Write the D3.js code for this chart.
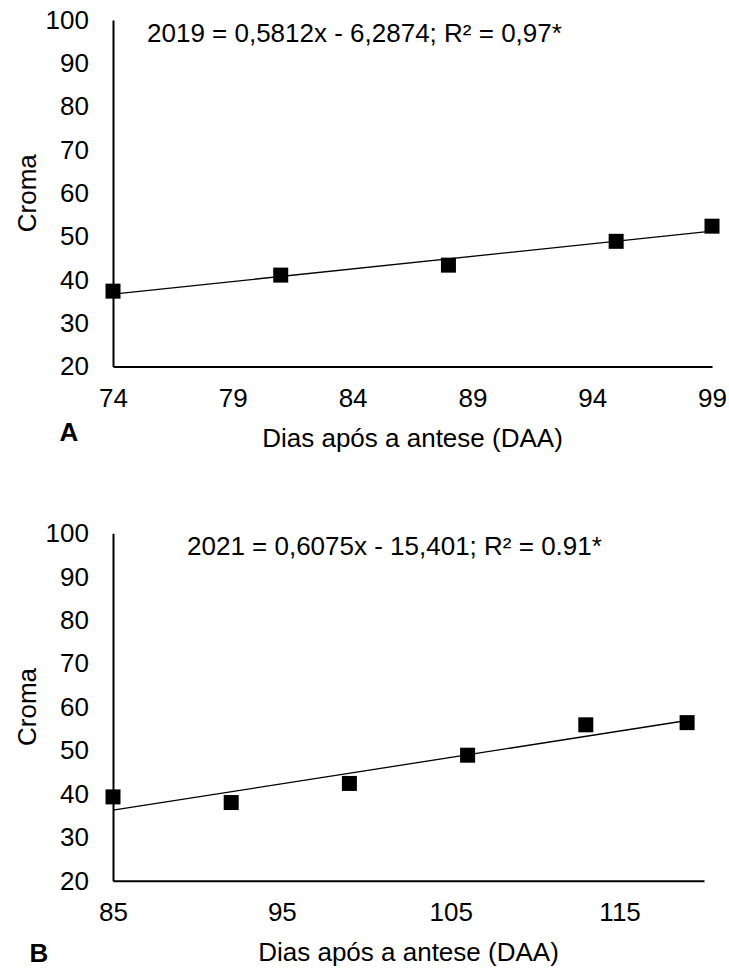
<!DOCTYPE html>
<html>
<head>
<meta charset="utf-8">
<script src="https://cdn.jsdelivr.net/npm/d3@7"></script>
<style>
  html, body { margin: 0; padding: 0; background: #fff; }
  svg { display: block; font-family: "Liberation Sans", Arial, sans-serif; }
</style>
</head>
<body>
<svg id="chart" width="729" height="969"></svg>
<script>
// ---- Data ----
const daysA = [74, 81, 88, 95, 99];
const cromaA = [37.4, 41.1, 43.4, 48.9, 52.4];
const slopeA = 0.5812, interceptA = -6.2874;
const equationA = "2019 = 0,5812x - 6,2874; R² = 0,97*";
const xTicksA = [74, 79, 84, 89, 94, 99];
const xDomainA = [74, 99];

const daysB = [85, 92, 99, 106, 113, 119];
const cromaB = [39.3, 38.0, 42.4, 48.9, 55.9, 56.4];
const slopeB = 0.6075, interceptB = -15.401;
const equationB = "2021 = 0,6075x - 15,401; R² = 0.91*";
const xTicksB = [85, 95, 105, 115];
const xDomainB = [85, 120];

const yTicks = [20, 30, 40, 50, 60, 70, 80, 90, 100];
const yTitle = "Croma";
const xTitle = "Dias após a antese (DAA)";

const svg = d3.select("#chart");
const FS = 26;

function panel(cfg) {
  const x = d3.scaleLinear().domain(cfg.xDomain).range([cfg.left, cfg.right]);
  const y = d3.scaleLinear().domain([20, 100]).range([cfg.bottom, cfg.top]);
  const g = svg.append("g");

  const yAx = g.append("g").attr("transform", `translate(${cfg.left},0)`)
    .call(d3.axisLeft(y).tickValues(yTicks).tickSize(0).tickPadding(24));
  const xAx = g.append("g").attr("transform", `translate(0,${cfg.bottom})`)
    .call(d3.axisBottom(x).tickValues(cfg.xTicks).tickSize(0).tickPadding(22));
  [yAx, xAx].forEach(a => {
    a.select(".domain").attr("stroke", "#000").attr("stroke-width", 2);
    a.selectAll("text").attr("font-size", FS).attr("fill", "#000")
      .attr("font-family", "'Liberation Sans', Arial, sans-serif");
  });

  // regression line
  const xr = d3.extent(cfg.days);
  g.append("line")
    .attr("x1", x(xr[0])).attr("y1", y(cfg.slope * xr[0] + cfg.intercept))
    .attr("x2", x(xr[1])).attr("y2", y(cfg.slope * xr[1] + cfg.intercept))
    .attr("stroke", "#000").attr("stroke-width", 1.3);

  // markers
  const s = 15;
  g.selectAll("rect.pt").data(cfg.days.map((d, i) => [d, cfg.croma[i]]))
    .enter().append("rect").attr("class", "pt")
    .attr("x", d => x(d[0]) - s / 2).attr("y", d => y(d[1]) - s / 2)
    .attr("width", s).attr("height", s).attr("fill", "#000");

  // equation
  g.append("text").attr("x", cfg.eqX).attr("y", y(100) + cfg.eqDy)
    .attr("dy", "0.35em").attr("font-size", FS).attr("fill", "#000").text(cfg.equation);

  // y title
  g.append("text")
    .attr("transform", `translate(27,${(cfg.top + cfg.bottom) / 2}) rotate(-90)`)
    .attr("text-anchor", "middle").attr("dy", "0.35em")
    .attr("font-size", FS).attr("fill", "#000").text(yTitle);

  // x title
  g.append("text").attr("x", (cfg.left + cfg.right) / 2).attr("y", cfg.bottom + 71)
    .attr("text-anchor", "middle").attr("dy", "0.35em")
    .attr("font-size", FS).attr("fill", "#000").text(xTitle);

  // panel letter
  g.append("text").attr("x", cfg.letterX).attr("y", cfg.letterY)
    .attr("text-anchor", "middle").attr("dy", "0.35em")
    .attr("font-size", FS).attr("font-weight", "bold").attr("fill", "#000").text(cfg.letter);
}

panel({
  days: daysA, croma: cromaA, slope: slopeA, intercept: interceptA,
  equation: equationA, xTicks: xTicksA, xDomain: xDomainA,
  left: 113, right: 712, top: 20, bottom: 366.5,
  eqX: 147, eqDy: 13, letter: "A", letterX: 69, letterY: 432
});
panel({
  days: daysB, croma: cromaB, slope: slopeB, intercept: interceptB,
  equation: equationB, xTicks: xTicksB, xDomain: xDomainB,
  left: 113, right: 704, top: 533.3, bottom: 880.7,
  eqX: 187, eqDy: 13, letter: "B", letterX: 39, letterY: 953
});
</script>
</body>
</html>
